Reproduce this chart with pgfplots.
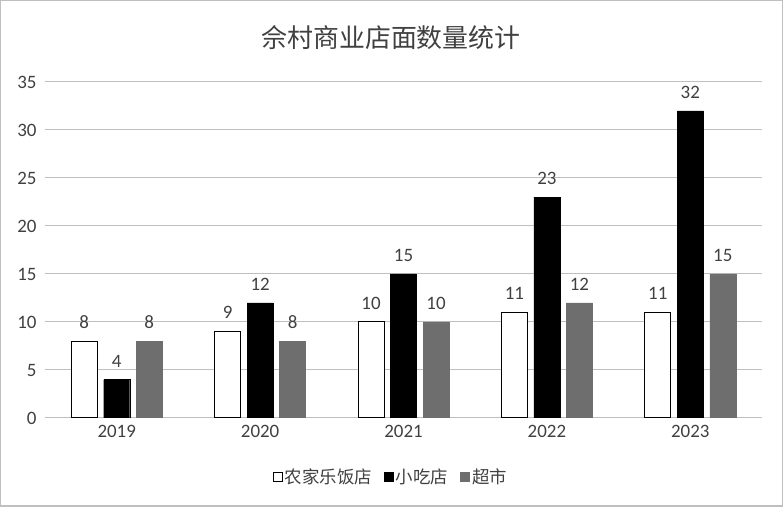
\documentclass[border=0pt]{standalone}
\usepackage{fontspec}
\setmainfont{Carlito}
\newfontfamily\cjk{Noto Sans CJK SC}
\usepackage{pgfplots}
\pgfplotsset{compat=1.18}
\definecolor{gridc}{HTML}{BFBFBF}
\definecolor{barg}{HTML}{6E6E6E}
\definecolor{txt}{HTML}{404040}
\begin{document}
\begin{tikzpicture}[x=1bp,y=1bp]
\path[use as bounding box] (0,0) rectangle (783,507);
\draw[gridc, line width=1.5bp] (0.75,0.75) rectangle (782.25,506.25);
\node[font=\cjk\fontsize{26}{30}\selectfont, text=txt] at (391,469) {佘村商业店面数量统计};
\begin{axis}[
  at={(45bp,89bp)}, anchor=south west,
  scale only axis, width=717bp, height=336bp,
  ymin=0, ymax=35, xmin=-0.5, xmax=4.5,
  ytick={0,5,...,35},
  xtick={0,1,2,3,4},
  xticklabels={2019,2020,2021,2022,2023},
  ybar=6.5bp, bar width=26bp,
  major tick length=0pt,
  axis y line*=left, y axis line style={draw=none},
  axis x line*=bottom, x axis line style={draw=gridc, line width=1bp},
  ymajorgrids, grid style={draw=gridc, line width=1bp},
  tick label style={font=\fontsize{19}{22}\selectfont, text=txt},
  yticklabel style={xshift=-5bp},
  xticklabel style={yshift=-4bp},
  /pgf/number format/assume math mode=true,
  nodes near coords,
  nodes near coords style={font=\fontsize{19}{22}\selectfont, text=txt, anchor=south, yshift=9bp},
  legend style={at={(0.4826,-0.176)}, anchor=center, draw=none, fill=none,
    font=\cjk\fontsize{17.5}{20}\selectfont, text=txt,
    legend columns=3, /tikz/every even column/.append style={column sep=10bp}},
  legend image code/.code={\draw[#1, line width=0.8bp] (1bp,-4.5bp) rectangle (10bp,4.5bp);},
  legend cell align=left,
]
\addplot[draw=black, fill=white, line width=1bp] coordinates {(0,8) (1,9) (2,10) (3,11) (4,11)};
\addplot[draw=black, fill=black] coordinates {(0,4) (1,12) (2,15) (3,23) (4,32)};
\addplot[draw=barg, fill=barg] coordinates {(0,8) (1,8) (2,10) (3,12) (4,15)};
\legend{农家乐饭店,小吃店,超市}
\end{axis}
\end{tikzpicture}
\end{document}
